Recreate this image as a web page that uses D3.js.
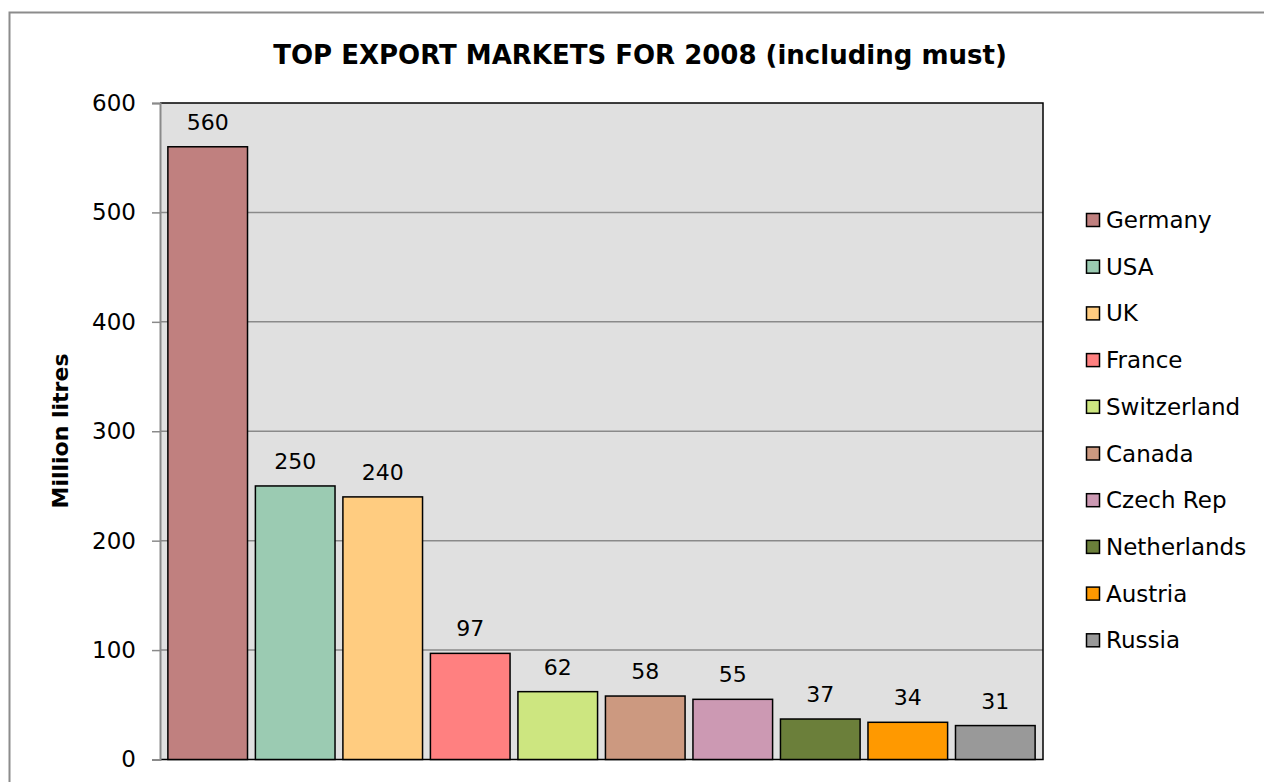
<!DOCTYPE html>
<meta charset="utf-8">
<style>
  body { margin: 0; background: #fff; }
  text { font-family: 'DejaVu Sans', Verdana, sans-serif; fill: #000; }
  text.title { font-size: 26px; font-weight: bold; text-anchor: middle; }
  text.ytitle { font-size: 22px; font-weight: bold; text-anchor: middle; }
  text.val { font-size: 22px; text-anchor: middle; }
  text.legend { font-size: 23px; }
  .y-axis text { font-size: 23px; font-family: 'DejaVu Sans', Verdana, sans-serif; }
</style>
<script src="https://d3js.org/d3.v7.min.js"></script>
<div id="chart"></div>
<script>

// data
var countries = ["Germany", "USA", "UK", "France", "Switzerland", "Canada", "Czech Rep", "Netherlands", "Austria", "Russia"];
var litres = [560, 250, 240, 97, 62, 58, 55, 37, 34, 31];
var colours = ["#c0807f", "#9bcbb2", "#ffcc80", "#ff8080", "#cde680", "#cc9980", "#cc99b3", "#6b7f3a", "#ff9900", "#999999"];
var yTicks = [0, 100, 200, 300, 400, 500, 600];

var W = 1264, H = 782;
var margin = {top: 103, left: 160, right: 221, bottom: 22.5};
var width = W - margin.left - margin.right,
    height = H - margin.top - margin.bottom;

var root = d3.select("#chart").append("svg")
    .attr("width", W)
    .attr("height", H);

// outer chart frame
root.append("rect")
    .attr("x", 9.5).attr("y", 12.5)
    .attr("width", W + 20).attr("height", H + 20)
    .attr("fill", "#fff")
    .attr("stroke", "#8c8c8c")
    .attr("stroke-width", 2);

var svg = root.append("g")
    .attr("transform", "translate(" + margin.left + "," + margin.top + ")");

var x = d3.scaleBand()
    .domain(countries)
    .range([0, width])
    .paddingInner(0.09)
    .paddingOuter(0.09);

var y = d3.scaleLinear()
    .domain([0, 600])
    .range([height, 0]);

// plot background
svg.append("rect")
    .attr("width", width).attr("height", height)
    .attr("fill", "#e0e0e0");

// gridlines
svg.append("g")
  .selectAll("line")
  .data(yTicks.filter(function(d){ return d > 0 && d < 600; }))
  .enter().append("line")
    .attr("x1", 0).attr("x2", width)
    .attr("y1", function(d){ return y(d); })
    .attr("y2", function(d){ return y(d); })
    .attr("stroke", "#8a8a8a")
    .attr("stroke-width", 1.5);

// plot border: black top/right/bottom
svg.append("path")
    .attr("d", "M0,0H" + width + "V" + height + "H0")
    .attr("fill", "none")
    .attr("stroke", "#000")
    .attr("stroke-width", 1.5);

// y axis
var yAxis = svg.append("g")
    .attr("class", "y-axis")
    .call(d3.axisLeft(y).tickValues(yTicks).tickSize(8).tickPadding(16).tickFormat(d3.format("d")));
yAxis.select(".domain").attr("stroke", "#8a8a8a").attr("stroke-width", 2);
yAxis.selectAll(".tick line").attr("stroke", "#8a8a8a").attr("stroke-width", 1.5);
yAxis.selectAll(".tick text").attr("fill", "#000");

// bars
var rows = countries.map(function(c, i){ return {name: c, value: litres[i], colour: colours[i]}; });

svg.append("g")
  .selectAll("rect")
  .data(rows)
  .enter().append("rect")
    .attr("x", function(d){ return x(d.name); })
    .attr("y", function(d){ return y(d.value); })
    .attr("width", x.bandwidth())
    .attr("height", function(d){ return height - y(d.value); })
    .attr("fill", function(d){ return d.colour; })
    .attr("stroke", "#000")
    .attr("stroke-width", 1.5);

// value labels
svg.append("g")
  .selectAll("text")
  .data(rows)
  .enter().append("text")
    .attr("class", "val")
    .attr("x", function(d){ return x(d.name) + x.bandwidth()/2; })
    .attr("y", function(d){ return y(d.value) - 17; })
    .text(function(d){ return d.value; });

// title
root.append("text")
    .attr("class", "title")
    .attr("x", 640)
    .attr("y", 64)
    .text("TOP EXPORT MARKETS FOR 2008 (including must)");

// y axis title
root.append("text")
    .attr("class", "ytitle")
    .attr("transform", "translate(68,431) rotate(-90)")
    .text("Million litres");

// legend
var legend = root.append("g")
  .selectAll("g")
  .data(rows)
  .enter().append("g")
    .attr("transform", function(d, i){ return "translate(1086," + (220 + i * 46.7) + ")"; });

legend.append("rect")
    .attr("x", 0.5).attr("y", -6.5)
    .attr("width", 13).attr("height", 13)
    .attr("fill", function(d){ return d.colour; })
    .attr("stroke", "#000")
    .attr("stroke-width", 1.5);

legend.append("text")
    .attr("class", "legend")
    .attr("x", 20)
    .attr("y", 8)
    .text(function(d){ return d.name; });

</script>
